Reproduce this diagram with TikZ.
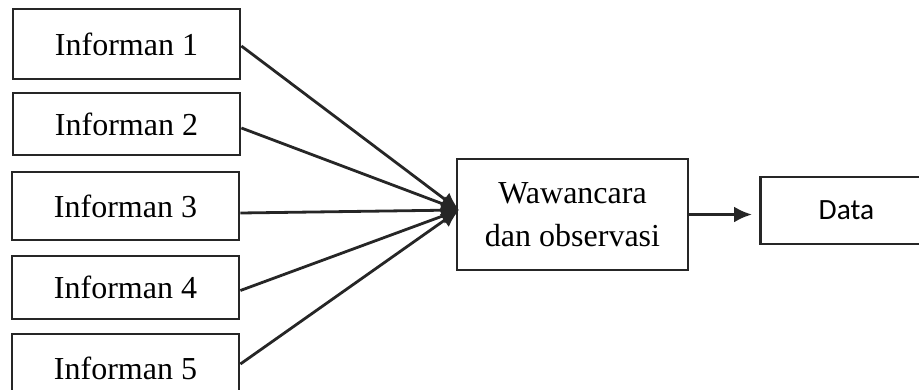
\documentclass[tikz,border=0pt]{standalone}
\usepackage{fontspec}
\setmainfont{Liberation Serif}
\newfontfamily\datafont{Carlito}
\usetikzlibrary{arrows.meta, positioning, calc}
\tikzset{
  infobox/.style={
    rectangle,
    draw=black!85,
    line width=1.4pt,
    align=center,
    minimum width=113.5pt,
    inner sep=0pt,
    font=\fontsize{16}{21.5}\selectfont
  },
  databox/.style={
    infobox,
    minimum width=90pt,
    minimum height=33.5pt,
    font=\datafont\fontsize{14.7}{18}\selectfont
  },
  infoarrow/.style={-{Latex[length=9pt, width=8pt]}, line width=1.4pt, draw=black!85}
}
\begin{document}
\begin{tikzpicture}[x=0.5pt, y=-0.5pt]
  \useasboundingbox (0,0) rectangle (919,390);
  \node[infobox, minimum height=35pt] (inf1) at (126.5,44) {Informan 1};
  \node[infobox, minimum height=31pt] (inf2) at (126.5,124) {Informan 2};
  \node[infobox, minimum height=34pt] (inf3) at (125.5,206) {Informan 3};
  \node[infobox, minimum height=31.5pt] (inf4) at (125.5,287.5) {Informan 4};
  \node[infobox, minimum height=34pt] (inf5) at (125.5,368) {Informan 5};
  \node[infobox, minimum width=115.5pt, minimum height=55.5pt] (wawancara) at (572.5,214.5) {Wawancara\\dan observasi};
  \node[databox, anchor=west] (data) at (759,210.5) {\hspace*{-4pt}Data};
  \coordinate (hub) at (459,210);

  % garis dari tiap informan ke wawancara
  \foreach \i/\dy in {1/-1, 2/-2, 3/-3.5, 4/-1.5, 5/2}
    \draw[infoarrow] ([yshift=\dy pt]inf\i.east) -- (hub);
  \draw[infoarrow, shorten >=3.5pt] (wawancara.east) -- (wawancara.east -| data.west);
\end{tikzpicture}
\end{document}
